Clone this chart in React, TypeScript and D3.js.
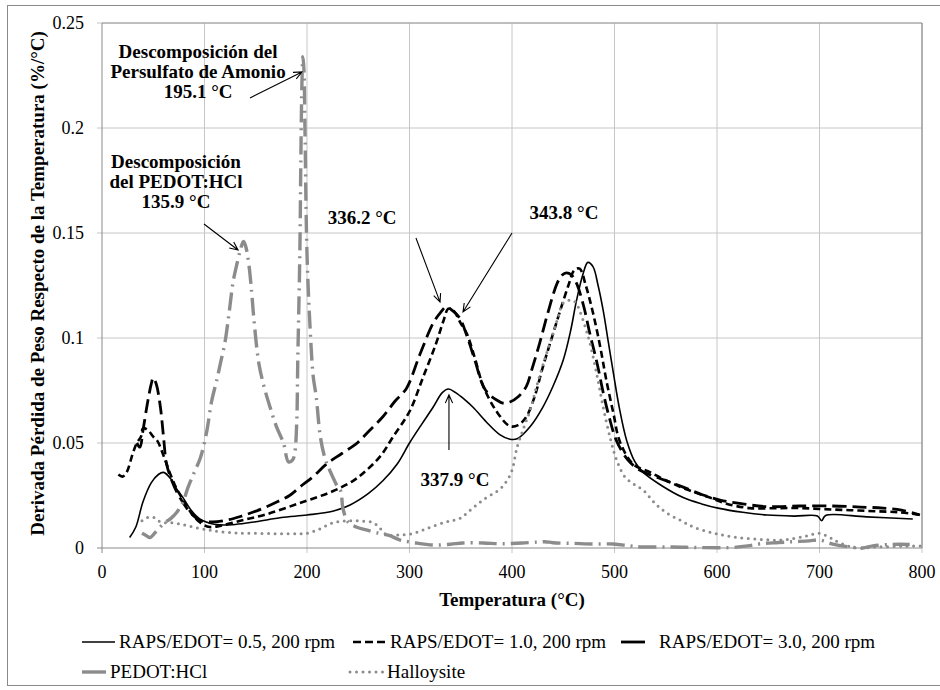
import * as d3 from 'd3'

// Temperatura (°C) vs derivada de pérdida de peso (%/°C)
const raps05: [number, number][] = [
  [27, 0.005], [33, 0.010], [40, 0.022], [48, 0.031], [55, 0.035], [60, 0.036], [67, 0.033], [73, 0.028],
  [79, 0.024], [87, 0.018], [95, 0.014], [105, 0.0118], [115, 0.011], [130, 0.0112], [150, 0.0125],
  [175, 0.0145], [200, 0.0157], [225, 0.0175], [242, 0.0205], [260, 0.026], [274, 0.032], [288, 0.040],
  [300, 0.050], [312, 0.059], [323, 0.067], [332, 0.074], [338, 0.0757], [345, 0.074], [353, 0.071],
  [362, 0.067], [375, 0.060], [388, 0.054], [398, 0.0518], [405, 0.052], [418, 0.058], [430, 0.067],
  [440, 0.077], [450, 0.0895], [457, 0.103], [463, 0.118], [469, 0.130], [474, 0.136], [479, 0.134],
  [484, 0.125], [489, 0.113], [494, 0.098], [499, 0.083], [505, 0.066], [512, 0.051], [520, 0.041],
  [528, 0.036], [545, 0.030], [567, 0.024], [585, 0.021], [601, 0.019], [625, 0.017], [649, 0.0157],
  [675, 0.0152], [698, 0.0152], [702, 0.013], [706, 0.0155], [746, 0.0148], [791, 0.0138],
]

const raps10: [number, number][] = [
  [16, 0.035], [20, 0.034], [24, 0.036], [30, 0.045], [34, 0.050], [38, 0.053], [40, 0.057], [45, 0.056],
  [50, 0.053], [54, 0.051], [60, 0.044], [66, 0.036], [72, 0.029], [79, 0.023], [88, 0.016], [96, 0.012],
  [105, 0.010], [115, 0.0105], [135, 0.013], [160, 0.016], [193, 0.0214], [225, 0.027], [245, 0.032],
  [258, 0.037], [272, 0.044], [284, 0.053], [300, 0.065], [313, 0.081], [326, 0.0975], [333, 0.108],
  [338, 0.114], [343, 0.113], [350, 0.107], [356, 0.102], [364, 0.090], [372, 0.077], [385, 0.065],
  [398, 0.058], [406, 0.0585], [414, 0.0625], [422, 0.072], [430, 0.086], [440, 0.102], [447, 0.113],
  [455, 0.125], [461, 0.1324], [466, 0.133], [472, 0.125], [479, 0.112], [486, 0.096], [492, 0.080],
  [499, 0.064], [505, 0.051], [518, 0.040], [535, 0.036], [551, 0.032], [570, 0.028], [593, 0.024],
  [610, 0.021], [632, 0.019], [660, 0.019], [681, 0.019], [705, 0.0185], [730, 0.018], [755, 0.0175],
  [778, 0.017], [800, 0.0157],
]

const raps30: [number, number][] = [
  [34, 0.050], [37, 0.048], [40, 0.056], [44, 0.068], [48, 0.078], [50, 0.081], [53, 0.078], [57, 0.067],
  [60, 0.053], [63, 0.040], [69, 0.031], [76, 0.024], [86, 0.017], [96, 0.013], [108, 0.0124],
  [122, 0.0133], [135, 0.015], [147, 0.017], [160, 0.0195], [171, 0.022], [183, 0.025], [193, 0.029],
  [206, 0.034], [219, 0.040], [234, 0.045], [249, 0.050], [261, 0.056], [274, 0.0625], [286, 0.070],
  [297, 0.076], [310, 0.092], [323, 0.107], [330, 0.112], [336, 0.1148], [342, 0.113], [349, 0.1095],
  [356, 0.101], [364, 0.089], [372, 0.077], [378, 0.073], [385, 0.0705], [391, 0.069], [398, 0.0695],
  [406, 0.072], [414, 0.077], [420, 0.086], [427, 0.0976], [435, 0.112], [444, 0.126], [449, 0.130],
  [453, 0.131], [458, 0.130], [463, 0.126], [470, 0.115], [476, 0.102], [483, 0.088], [489, 0.074],
  [495, 0.062], [502, 0.051], [513, 0.042], [525, 0.037], [545, 0.033], [567, 0.029], [585, 0.0255],
  [603, 0.0228], [625, 0.021], [649, 0.0197], [680, 0.020], [713, 0.020], [740, 0.0195], [762, 0.019],
  [780, 0.018], [798, 0.0157],
]

const pedot: [number, number][] = [
  [39, 0.007], [43, 0.006], [47, 0.005], [53, 0.008], [61, 0.012], [67, 0.014], [73, 0.017], [79, 0.022],
  [84, 0.029], [90, 0.036], [96, 0.043], [102, 0.055], [107, 0.070], [112, 0.080], [116, 0.089],
  [120, 0.098], [124, 0.112], [128, 0.127], [132, 0.136], [135, 0.142], [138, 0.146], [140, 0.144],
  [143, 0.136], [146, 0.122], [148, 0.110], [153, 0.088], [158, 0.077], [164, 0.067], [170, 0.058],
  [177, 0.050], [182, 0.041], [186, 0.042], [188, 0.045], [190, 0.060], [191, 0.0895], [193, 0.140],
  [194, 0.185], [195, 0.220], [196, 0.234], [197, 0.228], [198, 0.200], [200, 0.140], [203, 0.105],
  [206, 0.082], [209, 0.072], [213, 0.053], [218, 0.042], [224, 0.035], [230, 0.029], [233, 0.027],
  [235, 0.019], [240, 0.0124], [248, 0.010], [258, 0.0086], [270, 0.007], [280, 0.006], [291, 0.0038],
  [305, 0.0025], [323, 0.0014], [340, 0.0018], [352, 0.0024], [372, 0.0024], [390, 0.002], [410, 0.0024],
  [425, 0.0028], [432, 0.003], [440, 0.0025], [460, 0.0022], [480, 0.0019], [499, 0.0019], [515, 0.001],
  [527, 0.0005], [556, 0.0005], [583, 0.0002], [613, 0.0002], [630, 0.001], [642, 0.002], [660, 0.0026],
  [674, 0.003], [690, 0.0034], [700, 0.0038], [712, 0.002], [730, 0.0005], [742, 0.0], [752, 0.001],
  [770, 0.0017], [788, 0.0017],
]

const halloysite: [number, number][] = [
  [39, 0.013], [44, 0.0145], [49, 0.0148], [53, 0.014], [57, 0.0124], [63, 0.012], [69, 0.012], [80, 0.011],
  [93, 0.0095], [105, 0.0085], [115, 0.0078], [130, 0.0072], [147, 0.007], [170, 0.0068], [190, 0.0068],
  [200, 0.007], [212, 0.009], [225, 0.012], [235, 0.0128], [245, 0.013], [255, 0.0128], [265, 0.012],
  [272, 0.009], [278, 0.0062], [290, 0.0062], [304, 0.007], [318, 0.0095], [333, 0.012], [341, 0.013],
  [349, 0.014], [358, 0.0175], [372, 0.023], [388, 0.028], [395, 0.032], [400, 0.037], [405, 0.048],
  [412, 0.058], [418, 0.066], [424, 0.077], [432, 0.090], [440, 0.102], [445, 0.110], [450, 0.1167],
  [457, 0.118], [462, 0.117], [466, 0.113], [471, 0.106], [476, 0.0976], [483, 0.082], [489, 0.067],
  [496, 0.052], [502, 0.042], [510, 0.034], [520, 0.030], [528, 0.0276], [540, 0.021], [551, 0.0167],
  [565, 0.013], [577, 0.010], [596, 0.0072], [616, 0.0052], [640, 0.0042], [664, 0.0038], [685, 0.0055],
  [700, 0.007], [710, 0.005], [720, 0.0024], [736, 0.0], [756, 0.0005], [780, 0.0008], [800, 0.001],
]

const xTicks = [0, 100, 200, 300, 400, 500, 600, 700, 800]
const yTicks = [0, 0.05, 0.1, 0.15, 0.2, 0.25]
const yTickLabels = ['0', '0.05', '0.1', '0.15', '0.2', '0.25']

const seriesNames = [
  'RAPS/EDOT= 0.5, 200 rpm',
  'RAPS/EDOT= 1.0, 200 rpm',
  'RAPS/EDOT= 3.0, 200 rpm',
  'PEDOT:HCl',
  'Halloysite',
]

// anotaciones: texto, posición del texto y flecha en unidades de datos
const notes = [
  { lines: ['Descomposición  del', 'Persulfato de Amonio', '195.1 °C'], at: [93.7, 0.2333], from: [144.4, 0.2143], to: [195.1, 0.2267] },
  { lines: ['Descomposición', 'del PEDOT:HCl', '135.9 °C'], at: [72.2, 0.181], from: [99.5, 0.1543], to: [132.7, 0.1419] },
  { lines: ['336.2 °C'], at: [253.7, 0.1543], from: [306.3, 0.1476], to: [329.8, 0.1171] },
  { lines: ['343.8 °C'], at: [450.7, 0.1567], from: [400, 0.15], to: [352.2, 0.1124] },
  { lines: ['337.9 °C'], at: [344.4, 0.0295], from: [338.5, 0.0467], to: [338.5, 0.0729] },
]

const FONT = 'Liberation Serif, Times New Roman, DejaVu Serif, serif'
const GRAY = '#8c8c8c'

const styles = [
  { stroke: '#000', width: 1.6, dash: null, cap: 'butt' },
  { stroke: '#000', width: 2.6, dash: '7 4', cap: 'butt' },
  { stroke: '#000', width: 2.8, dash: '14 6', cap: 'butt' },
  { stroke: GRAY, width: 3.4, dash: '18 6 2 6', cap: 'butt' },
  { stroke: GRAY, width: 3, dash: '0 6.5', cap: 'round' },
]

export default function App() {
  const width = 940
  const height = 690
  const x = d3.scaleLinear().domain([0, 800]).range([102, 922])
  const y = d3.scaleLinear().domain([0, 0.25]).range([548, 23])
  const line = d3.line<[number, number]>().x(d => x(d[0])).y(d => y(d[1])).curve(d3.curveCatmullRom.alpha(0.5))

  const allSeries = [raps05, raps10, raps30, pedot, halloysite]

  const arrow = (n: typeof notes[0]) => {
    const x1 = x(n.from[0]), y1 = y(n.from[1]), x2 = x(n.to[0]), y2 = y(n.to[1])
    const a = Math.atan2(y2 - y1, x2 - x1)
    const L = 9, s = 0.42
    const h1 = [x2 - L * Math.cos(a - s), y2 - L * Math.sin(a - s)]
    const h2 = [x2 - L * Math.cos(a + s), y2 - L * Math.sin(a + s)]
    return `M${x1},${y1}L${x2},${y2}M${h1[0]},${h1[1]}L${x2},${y2}L${h2[0]},${h2[1]}`
  }

  const legendRows = [
    { y: 648, items: [{ i: 0, x: 82 }, { i: 1, x: 353 }, { i: 2, x: 621 }] },
    { y: 678, items: [{ i: 3, x: 82 }, { i: 4, x: 350 }] },
  ]

  const txt = { fontFamily: FONT }

  return (
    <svg width={width} height={height} style={{ position: 'absolute', left: 0, top: 0, background: '#fff', fontFamily: FONT }}>
      <rect x={7.5} y={5.5} width={940} height={680} fill="#fff" stroke="#8a8a8a" />

      {/* rejilla */}
      {xTicks.slice(1).map(t => (
        <line key={'gx' + t} x1={x(t)} x2={x(t)} y1={y(0.25)} y2={y(0) + 5} stroke="#c6c6c6" />
      ))}
      {yTicks.slice(1).map(t => (
        <line key={'gy' + t} x1={x(0) - 5} x2={x(800)} y1={y(t)} y2={y(t)} stroke="#c6c6c6" />
      ))}
      <line x1={x(0)} x2={x(800)} y1={y(0.25)} y2={y(0.25)} stroke="#9a9a9a" />
      <line x1={x(800)} x2={x(800)} y1={y(0.25)} y2={y(0)} stroke="#808080" />
      <line x1={x(0)} x2={x(0)} y1={y(0.25)} y2={y(0) + 5} stroke="#8a8a8a" />
      <line x1={x(0) - 5} x2={x(800)} y1={y(0)} y2={y(0)} stroke="#8a8a8a" />

      {/* series */}
      {allSeries.map((s, i) => (
        <path key={'s' + i} d={line(s) || ''} fill="none" stroke={styles[i].stroke} strokeWidth={styles[i].width}
          strokeDasharray={styles[i].dash || undefined} strokeLinecap={styles[i].cap as any} strokeLinejoin="round" />
      ))}

      {/* ejes */}
      {xTicks.map(t => (
        <text key={'tx' + t} x={x(t)} y={y(0) + 30} textAnchor="middle" fontSize={18} style={txt}>{t}</text>
      ))}
      {yTicks.map((t, i) => (
        <text key={'ty' + t} x={84} y={y(t) + 6} textAnchor="end" fontSize={18} style={txt}>{yTickLabels[i]}</text>
      ))}
      <text x={512} y={606} textAnchor="middle" fontSize={19} fontWeight="bold" style={txt}>Temperatura  (°C)</text>
      <text transform={`translate(44,${y(0.125) - 2}) rotate(-90)`} textAnchor="middle" fontSize={19} fontWeight="bold" style={txt}>
        Derivada Pérdida de Peso Respecto de la Temperatura  (%/°C)
      </text>

      {/* anotaciones */}
      {notes.map((n, k) => (
        <g key={'n' + k}>
          <text x={x(n.at[0])} y={y(n.at[1])} textAnchor="middle" fontSize={19} fontWeight="bold" style={txt}>
            {n.lines.map((l, j) => (
              <tspan key={j} x={x(n.at[0])} dy={j === 0 ? 0 : 20}>{l}</tspan>
            ))}
          </text>
          <path d={arrow(n)} fill="none" stroke="#000" strokeWidth={1.1} />
        </g>
      ))}

      {/* leyenda */}
      {legendRows.map((r, ri) => (
        <g key={'lr' + ri}>
          {r.items.map(it => {
            const st = styles[it.i]
            const len = it.i === 2 || it.i === 3 ? 24 : 33
            return (
              <g key={'li' + it.i}>
                <line x1={it.x} x2={it.x + len} y1={r.y - 6} y2={r.y - 6} stroke={st.stroke} strokeWidth={st.width}
                  strokeDasharray={it.i === 1 ? '8 4' : it.i === 4 ? st.dash! : undefined} strokeLinecap={st.cap as any} />
                <text x={it.x + len + (it.i === 2 ? 14 : 4)} y={r.y} fontSize={19} style={txt}>{seriesNames[it.i]}</text>
              </g>
            )
          })}
        </g>
      ))}
    </svg>
  )
}
